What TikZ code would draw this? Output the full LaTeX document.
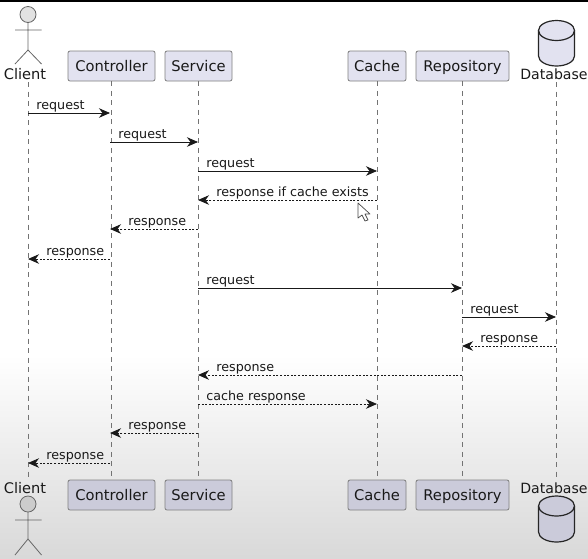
\documentclass[tikz,border=0pt]{standalone}
\usepackage{fontspec}
\setmainfont{DejaVu Sans}
\usetikzlibrary{arrows.meta,positioning,calc}

\begin{document}
\begin{tikzpicture}[
  x=1pt, y=-1pt,
  part/.style={draw=black!50, fill=#1, rounded corners=2pt, line width=0.8pt,
    minimum height=30pt, inner sep=0pt, text height=12pt, text depth=2pt, text=black!90,
    font=\fontsize{14.7}{16}\selectfont},
  part/.default={topfill},
  actorname/.style={inner sep=0pt, text=black!90, font=\fontsize{14.6}{16}\selectfont},
  life/.style={draw=black!55, line width=0.7pt, dash pattern=on 5pt off 4.5pt},
  msg/.style={-{Stealth[length=11pt,width=9.5pt,inset=3.5pt]}, line width=0.8pt, black!90},
  ret/.style={msg, dash pattern=on 2pt off 1.6pt},
  lblf/.style={above right, inner sep=0pt, xshift=8pt, yshift=0.6pt, text=black!90,
    font=\fontsize{12.7}{14}\selectfont},
  lblb/.style={lblf, xshift=10pt},
  stick/.style={draw=black!60, line width=0.8pt},
  drum/.style={draw=black!85, line width=1.2pt}
]
\definecolor{topfill}{HTML}{E2E2F0}
\definecolor{botfill}{HTML}{CBCBDA}
\definecolor{headtop}{HTML}{E2E2E2}
\definecolor{headbot}{HTML}{CCCCCC}

% page and fading
\useasboundingbox (0,0) rectangle (588,558);
\fill[white] (0,0) rectangle (588,558);
\shade[top color=white, bottom color=black!15] (0,355) rectangle (588,558);
\fill[black] (0,0) rectangle (588,1.5);

% top row
\node[actorname] (clienttop) at (25,74) {Client};
\node[part, minimum width=87pt] (ctrl) at (111.5,66) {Controller};
\node[part, minimum width=67pt] (svc) at (198.5,66) {Service};
\node[part, minimum width=58pt] (cache) at (377,66) {Cache};
\node[part, minimum width=93pt] (repo) at (462.5,66) {Repository};
\node[actorname, font=\fontsize{14.1}{16}\selectfont] (dbtop) at (554,74) {Database};

% bottom row
\node[actorname] (clientbot) at (25,488) {Client};
\node[part=botfill, minimum width=87pt] (ctrlb) at (111.5,495) {Controller};
\node[part=botfill, minimum width=67pt] (svcb) at (198.5,495) {Service};
\node[part=botfill, minimum width=58pt] (cacheb) at (377,495) {Cache};
\node[part=botfill, minimum width=93pt] (repob) at (462.5,495) {Repository};
\node[actorname, font=\fontsize{14.1}{16}\selectfont] (dbbot) at (554,488) {Database};

% lifelines
\coordinate (client) at (28,82);
\coordinate (clientb) at (28,478);
\coordinate (db) at (556,82);
\coordinate (dbb) at (556,478);
\draw[life] (client) -- (clientb);
\draw[life] (ctrl.south) -- ($(ctrlb.north)+(0,-2)$);
\draw[life] (svc.south) -- ($(svcb.north)+(0,-2)$);
\draw[life] (cache.south) -- ($(cacheb.north)+(0,-2)$);
\draw[life] (repo.south) -- ($(repob.north)+(0,-2)$);
\draw[life] (db) -- (dbb);

% actors
\draw[stick, fill=headtop] (28,14.5) circle (8);
\draw[stick] (28,22.5) -- (28,50) (15,30) -- (41.5,30) (15,64) -- (28,50) -- (41.5,64);
\draw[stick, fill=headbot] (28,504) circle (8);
\draw[stick] (28,512) -- (28,539) (15,520) -- (41.5,520) (15,555) -- (28,539) -- (41.5,555);

% database drums
\draw[drum, fill=topfill] (538.5,30.5) arc[start angle=180, end angle=0, x radius=18, y radius=-10]
  -- (574.5,56) arc[start angle=0, end angle=-180, x radius=18, y radius=-10] -- cycle;
\draw[drum] (538.5,30.5) arc[start angle=180, end angle=360, x radius=18, y radius=-10];
\draw[drum, fill=botfill] (538.5,506) arc[start angle=180, end angle=0, x radius=18, y radius=-10]
  -- (574.5,532) arc[start angle=0, end angle=-180, x radius=18, y radius=-10] -- cycle;
\draw[drum] (538.5,506) arc[start angle=180, end angle=360, x radius=18, y radius=-10];

% message rows on every lifeline
\foreach \r/\ypos in {1/113,2/142,3/171,4/200,5/229,6/259,7/288,8/317,9/346,10/375,11/404,12/433,13/463} {
  \coordinate (a\r) at (28,\ypos);
  \coordinate (b\r) at (110,\ypos);
  \coordinate (c\r) at (198,\ypos);
  \coordinate (d\r) at (377,\ypos);
  \coordinate (e\r) at (462,\ypos);
  \coordinate (f\r) at (556,\ypos);
}

\draw[msg] (a1) -- node[at start, lblf] (t1) {request} (b1);
\draw[msg] (b2) -- node[at start, lblf] (t2) {request} (c2);
\draw[msg] (c3) -- node[at start, lblf] (t3) {request} (d3);
\draw[ret] (d4) -- node[at end, lblb] (t4) {response if cache exists} (c4);
\draw[ret] (c5) -- node[at end, lblb] (t5) {response} (b5);
\draw[ret] (b6) -- node[at end, lblb] (t6) {response} (a6);
\draw[msg] (c7) -- node[at start, lblf] (t7) {request} (e7);
\draw[msg] (e8) -- node[at start, lblf] (t8) {request} (f8);
\draw[ret] (f9) -- node[at end, lblb] (t9) {response} (e9);
\draw[ret] (e10) -- node[at end, lblb] (t10) {response} (c10);
\draw[ret] (c11) -- node[at start, lblf] (t11) {cache response} (d11);
\draw[ret] (c12) -- node[at end, lblb] (t12) {response} (b12);
\draw[ret] (b13) -- node[at end, lblb] (t13) {response} (a13);

% mouse pointer
\draw[fill=white, draw=black!70, line width=0.7pt, line join=round]
  (358,203) -- (358,218) -- (362,215) -- (365,221) -- (368,220) -- (365,214) -- (370,214) -- cycle;
\end{tikzpicture}
\end{document}
